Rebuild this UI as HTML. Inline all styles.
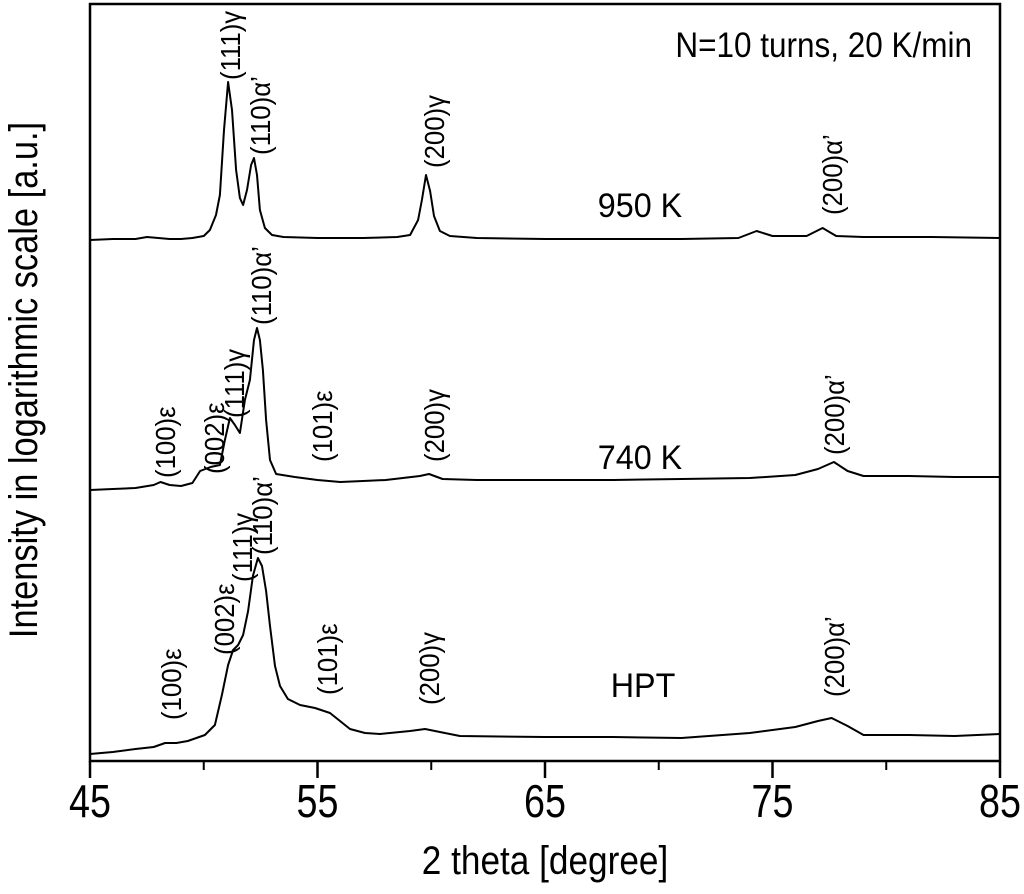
<!DOCTYPE html>
<html><head><meta charset="utf-8"><style>
html,body{margin:0;padding:0;background:#fff;}
svg{display:block;font-family:"Liberation Sans",sans-serif;}
</style></head><body>
<svg id="chart" width="1024" height="894" viewBox="0 0 1024 894" xmlns="http://www.w3.org/2000/svg">
<rect x="0" y="0" width="1024" height="894" fill="#fff"/>
<g id="series"></g>
<rect x="90" y="4" width="910" height="757" fill="none" stroke="#000" stroke-width="2.5"/>
<g id="ticks"></g>
<g id="annos"></g>
<text font-size="40" text-anchor="middle" transform="translate(545 874) scale(0.88 1)">2 theta [degree]</text>
<text transform="translate(37 380) rotate(-90) scale(0.86 1)" font-size="40" text-anchor="middle">Intensity in logarithmic scale [a.u.]</text>
<text font-size="35" text-anchor="end" transform="translate(972 57) scale(0.9 1)">N=10 turns, 20 K/min</text>
</svg>
<script>
// data: 2theta (deg) and intensity (arbitrary units, offset stack)
const xTicks = [45, 55, 65, 75, 85];
const xMinorTicks = [50, 60, 70, 80];
const x950 = [45,46,47,47.5,48,48.5,49,49.5,50.0,50.27,50.54,50.71,50.89,51.07,51.24,51.42,51.59,51.73,51.90,52.08,52.21,52.34,52.47,52.69,53.0,53.5,55,57,58.5,59.07,59.42,59.59,59.77,59.95,60.12,60.38,60.82,62,65,68,71,73.5,74.3,75,76.5,77.2,77.8,79,82,85];
const y950 = [521,522,522,524,523,522,522,523,525,531,546,566,631,679,651,591,563,556,571,596,603,586,551,533,526,524,523,523,524,526,541,561,586,570,545,530,525,523,522,522,522,523,530,525,525,533,525,524,524,523];
const x740 = [45,46,47,47.8,48.1,48.5,49,49.5,49.84,50.3,50.71,50.93,51.15,51.37,51.59,51.81,52.03,52.21,52.34,52.47,52.60,52.74,52.91,53.18,54,55,56,57,58,59.5,59.9,60.5,62,65,68,71,74,76,77,77.7,78.3,79,81,83,85];
const y740 = [271,272,273,276,279,276,275,278,290,294,296,321,343,336,328,361,381,421,433,421,391,341,301,287,284,281,279,280,281,285,287,282,281,281,281,282,283,286,292,299,290,285,285,284,284];
const xHPT = [45,46,47,47.8,48.3,48.8,49.3,50.05,50.49,50.80,51.07,51.29,51.51,51.73,51.95,52.16,52.38,52.56,52.74,52.91,53.13,53.35,53.70,54.23,54.89,55.55,55.99,56.43,57.09,57.75,59.07,59.73,60.38,61.26,65,68,71,74,76,77,77.6,78.3,79,81,83,85];
const yHPT = [7,9,12,14,18,18,20,26,36,66,96,111,116,126,150,185,203,195,170,135,95,75,62,56,53,48,40,32,28,27,30,32,29,25,24,24,23,28,34,40,43,35,26,26,25,27];

const X0=90, X1=1000, Y0=761, Y1=3;
const xs = d => X0 + (d-45)/(85-45)*(X1-X0);
const ys = v => Y0 - v/758*(Y0-Y1);
const NS='http://www.w3.org/2000/svg';
const sg = document.getElementById('series');
function drawSeries(xa, ya, name){
  const p = document.createElementNS(NS,'polyline');
  p.setAttribute('points', xa.map((d,i)=>xs(d).toFixed(1)+','+ys(ya[i]).toFixed(1)).join(' '));
  p.setAttribute('fill','none');p.setAttribute('stroke','#000');p.setAttribute('stroke-width','2');
  p.setAttribute('stroke-linejoin','round');
  
  
  sg.appendChild(p);
}
drawSeries(x950,y950,'series-950k');
drawSeries(x740,y740,'series-740k');
drawSeries(xHPT,yHPT,'series-hpt');

const tg = document.getElementById('ticks');
xTicks.forEach(t=>{
  const l=document.createElementNS(NS,'line');
  l.setAttribute('x1',xs(t));l.setAttribute('x2',xs(t));l.setAttribute('y1',Y0);l.setAttribute('y2',Y0+17);
  l.setAttribute('stroke','#000');l.setAttribute('stroke-width','2.5');
  
  
  tg.appendChild(l);
  const tx=document.createElementNS(NS,'text');
  tx.setAttribute('transform','translate('+xs(t)+' 817) scale(0.82 1)');
  tx.setAttribute('text-anchor','middle');tx.setAttribute('font-size','46');
  tx.textContent=t;
  
  
  tg.appendChild(tx);
});
xMinorTicks.forEach(t=>{
  const l=document.createElementNS(NS,'line');
  l.setAttribute('x1',xs(t));l.setAttribute('x2',xs(t));l.setAttribute('y1',Y0);l.setAttribute('y2',Y0+9);
  l.setAttribute('stroke','#000');l.setAttribute('stroke-width','2');
  
  
  tg.appendChild(l);
});

const ag = document.getElementById('annos');
const annos = [
 ['(111)γ',230,80],['(110)α\u2019',260,155],['(200)γ',434,168],['(200)α\u2019',832,215],
 ['(100)ε',165,478],['(002)ε',214,474],['(111)γ',234,418],['(110)α\u2019',261,325],['(101)ε',322,462],['(200)γ',434,462],['(200)α\u2019',834,455],
 ['(100)ε',171,720],['(002)ε',224,655],['(111)γ',242,582],['(110)α\u2019',262,555],['(101)ε',327,695],['(200)γ',429,705],['(200)α\u2019',834,697]
];
annos.forEach(a=>{
  const t=document.createElementNS(NS,'text');
  t.setAttribute('transform','translate('+(a[1]+10)+' '+a[2]+') rotate(-90) scale(0.92 1)');
  t.setAttribute('font-size','28');
  t.textContent=a[0];
  
  
  ag.appendChild(t);
});
[['950 K',640,217],['740 K',640,469],['HPT',643,697]].forEach(s=>{
  const t=document.createElementNS(NS,'text');
  t.setAttribute('transform','translate('+s[1]+' '+s[2]+') scale(0.95 1)');
  t.setAttribute('text-anchor','middle');t.setAttribute('font-size','34');
  t.textContent=s[0];
  
  
  ag.appendChild(t);
});
</script>
</body></html>
